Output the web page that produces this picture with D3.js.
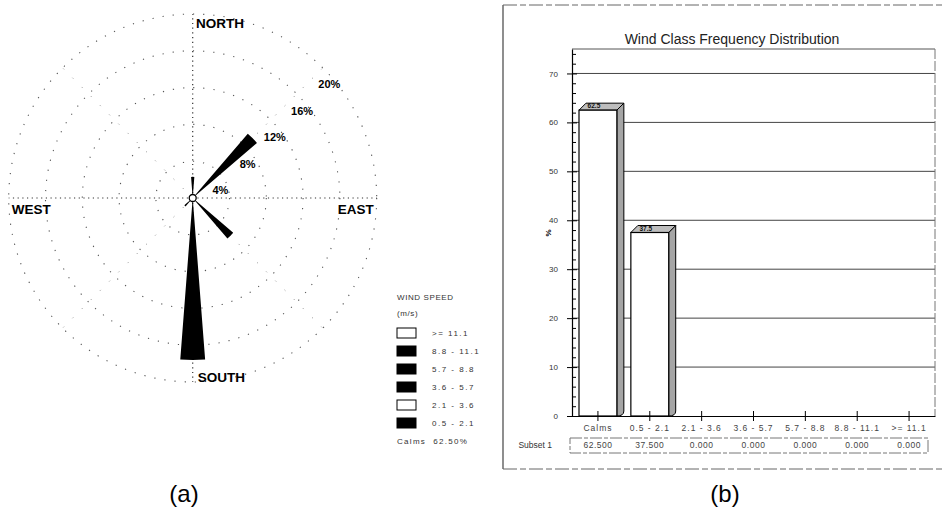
<!DOCTYPE html>
<html><head><meta charset="utf-8">
<script src="https://cdn.jsdelivr.net/npm/d3@7"></script>
<style>
body{margin:0;background:#fff}
svg{display:block;font-family:"Liberation Sans",Arial,sans-serif}
</style>
</head><body>
<svg id="c" width="944" height="522"></svg>
<script>
// ---------- (a) wind rose data ----------
const roseDirections = ["N", "NE", "SE", "S", "SW"];
const roseFrequencies = [2.3, 9.2, 5.8, 17.6, 1.2];   // % per direction
const roseRings = [4, 8, 12, 16, 20];
const cardinalLabels = ["NORTH", "EAST", "SOUTH", "WEST"];
const speedClasses = [">= 11.1", "8.8 - 11.1", "5.7 - 8.8", "3.6 - 5.7", "2.1 - 3.6", "0.5 - 2.1"];
const legendTitle = ["WIND SPEED", "(m/s)"];
const calmsLabel = "Calms  62.50%";

// ---------- (b) bar chart data ----------
const chartTitle = "Wind Class Frequency Distribution";
const windClasses = ["Calms", "0.5 - 2.1", "2.1 - 3.6", "3.6 - 5.7", "5.7 - 8.8", "8.8 - 11.1", ">= 11.1"];
const classFrequencies = [62.5, 37.5, 0, 0, 0, 0, 0];
const yTicks = [0, 10, 20, 30, 40, 50, 60, 70];
const subsetName = "Subset 1";

// styles
const speedFills = ["#fff", "#000", "#000", "#000", "#fff", "#000"];
const bearings = {N: 0, NE: 45, E: 90, SE: 135, S: 180, SW: 225, W: 270, NW: 315};

const svg = d3.select("#c");

// ================= WIND ROSE =================
const cx = 192.7, cy = 198;
const r = d3.scaleLinear().domain([0, 20]).range([0, 184]);
const rose = svg.append("g").attr("transform", `translate(${cx},${cy})`);

rose.selectAll("circle.ring").data(roseRings).join("circle")
  .attr("class", "ring").attr("r", d => r(d))
  .attr("fill", "none").attr("stroke", "#555").attr("stroke-width", 1.1)
  .attr("stroke-dasharray", "1.2,9");

const radials = [0, 45, 90, 135, 180, 225, 270, 315];
rose.selectAll("line.rad").data(radials).join("line")
  .attr("class", "rad")
  .attr("x1", 0).attr("y1", 0)
  .attr("x2", d => r(20) * Math.sin(d * Math.PI / 180))
  .attr("y2", d => -r(20) * Math.cos(d * Math.PI / 180))
  .attr("stroke", d => d % 90 === 0 ? "#333" : "#888").attr("stroke-width", d => d % 90 === 0 ? 1.2 : 1)
  .attr("stroke-dasharray", d => d % 90 === 0 ? "1.2,3.5" : "1,12");

const petals = roseDirections.map((dname, i) => ({b: bearings[dname], v: roseFrequencies[i]}));
const half = 4.4;
const arc = d3.arc()
  .innerRadius(3.5)
  .outerRadius(d => r(d.v))
  .startAngle(d => (d.b - half) * Math.PI / 180)
  .endAngle(d => (d.b + half) * Math.PI / 180);
rose.selectAll("path.petal").data(petals).join("path")
  .attr("class", "petal").attr("d", arc).attr("fill", "#000");

rose.append("circle").attr("r", 3.5).attr("fill", "#fff").attr("stroke", "#000").attr("stroke-width", 1.3);

// ring labels
rose.selectAll("text.rl").data(roseRings).join("text")
  .attr("class", "rl")
  .attr("x", d => r(d) * 0.74 + 0.5)
  .attr("y", d => -r(d) * 0.72 + 22.5)
  .attr("text-anchor", "middle").attr("font-size", 11).attr("font-weight", "bold")
  .text(d => d + "%");

// cardinal labels
const R = r(20);
const cardPos = [
  {x: 3.3, y: -R + 14, a: "start"},
  {x: R - 3, y: 16, a: "end"},
  {x: 5, y: R, a: "start"},
  {x: -R + 3, y: 16, a: "start"}
];
rose.selectAll("text.card").data(cardinalLabels).join("text")
  .attr("class", "card")
  .attr("x", (d, i) => cardPos[i].x).attr("y", (d, i) => cardPos[i].y)
  .attr("text-anchor", (d, i) => cardPos[i].a)
  .attr("font-size", 13.5).attr("font-weight", "bold")
  .text(d => d);

// legend
const lg = svg.append("g").attr("transform", "translate(397,0)");
lg.selectAll("text.lt").data(legendTitle).join("text")
  .attr("class", "lt").attr("x", 0).attr("y", (d, i) => 300 + i * 16)
  .attr("font-size", 8).attr("fill", "#333").attr("letter-spacing", 0.6).text(d => d);
const rowY = d3.scalePoint().domain(speedClasses).range([333, 423]);
lg.selectAll("rect.lb").data(speedClasses).join("rect")
  .attr("class", "lb").attr("x", 0).attr("y", d => rowY(d) - 5)
  .attr("width", 19).attr("height", 10)
  .attr("fill", (d, i) => speedFills[i]).attr("stroke", "#000").attr("stroke-width", 1);
lg.selectAll("text.ll").data(speedClasses).join("text")
  .attr("class", "ll").attr("x", 35).attr("y", d => rowY(d) + 3)
  .attr("font-size", 8).attr("fill", "#333").attr("letter-spacing", 1.5).text(d => d);
lg.append("text").attr("x", 0).attr("y", 444).attr("font-size", 8).attr("fill", "#333")
  .attr("letter-spacing", 1.3).attr("xml:space", "preserve").text(calmsLabel);

// ================= BAR CHART =================
const x = d3.scaleBand().domain(windClasses).range([572, 935]);
const y = d3.scaleLinear().domain([0, 75]).range([416, 49]);
const left = 572, right = 935;

// outer frame
const fr = svg.append("g").attr("fill", "none").attr("stroke", "#444");
fr.append("line").attr("x1", 503).attr("y1", 5).attr("x2", 503).attr("y2", 469).attr("stroke-width", 1.2);
fr.append("line").attr("x1", 503).attr("y1", 5).attr("x2", 944).attr("y2", 5).attr("stroke-dasharray", "14,3,6,3").attr("stroke", "#666");
fr.append("line").attr("x1", 503).attr("y1", 469).attr("x2", 944).attr("y2", 469).attr("stroke-dasharray", "14,3,6,3").attr("stroke", "#666");

svg.append("text").attr("x", 732).attr("y", 44).attr("text-anchor", "middle")
  .attr("font-size", 14).attr("fill", "#222").text(chartTitle);

// gridlines
svg.append("g").selectAll("line").data(yTicks.filter(v => v > 0)).join("line")
  .attr("x1", left).attr("x2", right).attr("y1", d => y(d)).attr("y2", d => y(d))
  .attr("stroke", "#444").attr("stroke-width", 1);
// plot frame top & right
svg.append("line").attr("x1", left).attr("x2", right).attr("y1", y(75)).attr("y2", y(75)).attr("stroke", "#555");
svg.append("line").attr("x1", right).attr("x2", right).attr("y1", y(75)).attr("y2", y(0)).attr("stroke", "#777").attr("stroke-dasharray", "10,2");

// bars (3D)
const bw = x.bandwidth() * 0.73, dx = 7, dy = 7;
const bars = svg.append("g").selectAll("g").data(windClasses.map((c, i) => ({c, v: classFrequencies[i]})).filter(d => d.v > 0)).join("g");
bars.append("path")
  .attr("d", d => {
    const xr = x(d.c) + x.bandwidth() / 2 + bw / 2, yt = y(d.v), yb = y(0);
    return `M${xr},${yt}L${xr + dx},${yt - dy}L${xr + dx},${yb - dy + 2}Q${xr + dx},${yb} ${xr},${yb}Z`;
  })
  .attr("fill", "#a5a5a5").attr("stroke", "#000").attr("stroke-width", 1);
bars.append("path")
  .attr("d", d => {
    const xl = x(d.c) + x.bandwidth() / 2 - bw / 2, xr = xl + bw, yt = y(d.v);
    return `M${xl},${yt}L${xl + dx},${yt - dy}L${xr + dx},${yt - dy}L${xr},${yt}Z`;
  })
  .attr("fill", "#bdbdbd").attr("stroke", "#000").attr("stroke-width", 1);
bars.append("rect")
  .attr("x", d => x(d.c) + x.bandwidth() / 2 - bw / 2).attr("width", bw)
  .attr("y", d => y(d.v)).attr("height", d => y(0) - y(d.v))
  .attr("fill", "#fff").attr("stroke", "#000").attr("stroke-width", 1.2);
bars.append("text")
  .attr("x", d => x(d.c) + x.bandwidth() / 2 - 4).attr("y", d => y(d.v) - 2)
  .attr("text-anchor", "middle").attr("font-size", 6.5).attr("font-weight", "bold").attr("fill", "#111")
  .text(d => d.v.toFixed(1));

// y axis
const ya = svg.append("g").attr("transform", `translate(${left},0)`)
  .call(d3.axisLeft(y).tickValues(yTicks).tickSize(5).tickSizeOuter(0).tickPadding(9));
ya.select(".domain").attr("stroke", "#000").attr("stroke-width", 1.2);
ya.selectAll("text").attr("font-size", 8).attr("fill", "#333").attr("font-family", "Liberation Sans, Arial, sans-serif");
svg.append("g").attr("transform", `translate(${left},0)`)
  .call(d3.axisRight(y).tickValues(yTicks).tickSize(5).tickFormat(""))
  .call(g => g.select(".domain").remove());
svg.append("g").attr("transform", `translate(${left},0)`)
  .call(d3.axisRight(y).tickValues(d3.range(2, 75, 2).filter(v => v % 10 !== 0)).tickSize(4).tickFormat(""))
  .call(g => g.select(".domain").remove());
svg.append("text").attr("transform", "translate(551,233) rotate(-90)").attr("text-anchor", "middle")
  .attr("font-size", 8).attr("font-weight", "bold").text("%");

// x axis
const xa = svg.append("g").attr("transform", `translate(0,${y(0)})`)
  .call(d3.axisBottom(x).tickSize(5).tickSizeOuter(0).tickPadding(4));
xa.select(".domain").attr("stroke", "#000").attr("stroke-width", 1.2);
xa.selectAll("text").attr("font-size", 8.5).attr("fill", "#444").attr("letter-spacing", 1)
  .attr("font-family", "Liberation Sans, Arial, sans-serif");
svg.append("g").attr("transform", `translate(0,${y(0)})`)
  .call(d3.axisTop(x).tickSize(5).tickSizeOuter(0).tickFormat(""))
  .call(g => g.select(".domain").remove());

// data table
svg.append("text").attr("x", 552).attr("y", 448).attr("text-anchor", "end")
  .attr("font-size", 8.5).attr("fill", "#333").text(subsetName);
svg.append("rect").attr("x", 570).attr("y", 438).attr("width", 358).attr("height", 15)
  .attr("fill", "none").attr("stroke", "#777").attr("stroke-dasharray", "12,2,4,2");
svg.append("g").selectAll("text").data(windClasses).join("text")
  .attr("x", d => x(d) + x.bandwidth() / 2).attr("y", 448).attr("text-anchor", "middle")
  .attr("font-size", 8.5).attr("fill", "#444").attr("letter-spacing", 0.5)
  .text((d, i) => classFrequencies[i].toFixed(3));

// panel labels
svg.append("text").attr("x", 184).attr("y", 502).attr("text-anchor", "middle").attr("font-size", 24).text("(a)");
svg.append("text").attr("x", 725).attr("y", 502).attr("text-anchor", "middle").attr("font-size", 24).text("(b)");
</script>
</body></html>
